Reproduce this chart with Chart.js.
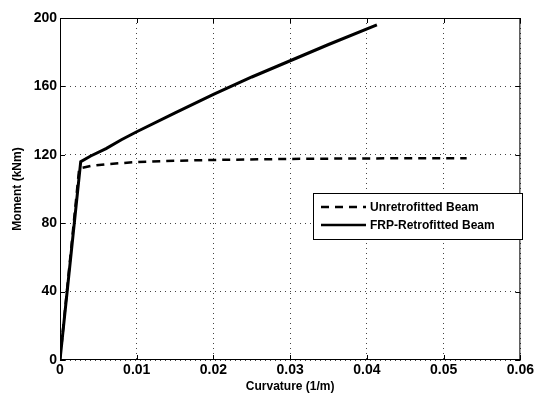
<!DOCTYPE html>
<html><head><meta charset="utf-8">
<script src="https://cdn.jsdelivr.net/npm/chart.js@4/dist/chart.umd.min.js"></script>
<style>html,body{margin:0;padding:0;background:#fff}#wrap{width:536px;height:398px}</style>
</head><body><div id="wrap"><canvas id="c" width="536" height="398"></canvas></div>
<script>
const curvatureUnretro = [0, 0.0025, 0.004, 0.006, 0.01, 0.015, 0.02, 0.03, 0.04, 0.053];
const momentUnretro    = [0, 112, 113.5, 114.5, 115.8, 116.5, 117, 117.6, 117.9, 118];
const curvatureFRP = [0, 0.0027, 0.004, 0.006, 0.008, 0.01, 0.015, 0.02, 0.025, 0.03, 0.035, 0.0413];
const momentFRP    = [0, 116, 119.3, 123.6, 128.8, 133.5, 144.5, 155.3, 165.5, 175, 184.5, 196];
const xTicks = [0, 0.01, 0.02, 0.03, 0.04, 0.05, 0.06];
const yTicks = [0, 40, 80, 120, 160, 200];
const seriesNames = ['Unretrofitted Beam', 'FRP-Retrofitted Beam'];

const toPts = (xs, ys) => xs.map((x, i) => ({x, y: ys[i]}));
const FONT = 'Liberation Sans, Arial, sans-serif';

const framePlugin = {
  id: 'frame',
  afterDraw(chart) {
    const {ctx, chartArea: a, scales: {x, y}} = chart;
    ctx.save();
    ctx.strokeStyle = '#000';
    ctx.lineWidth = 1;
    ctx.setLineDash([]);
    ctx.strokeRect(a.left + 0.5, a.top + 0.5, a.right - a.left - 1, a.bottom - a.top - 1);
    const L = 5;
    ctx.beginPath();
    xTicks.forEach(v => {
      const px = Math.round(x.getPixelForValue(v)) + 0.5;
      ctx.moveTo(px, a.bottom); ctx.lineTo(px, a.bottom - L);
      ctx.moveTo(px, a.top); ctx.lineTo(px, a.top + L);
    });
    yTicks.forEach(v => {
      const py = Math.round(y.getPixelForValue(v)) + 0.5;
      ctx.moveTo(a.left, py); ctx.lineTo(a.left + L, py);
      ctx.moveTo(a.right, py); ctx.lineTo(a.right - L, py);
    });
    ctx.stroke();
    // legend box
    const bx = 313, by = 193, bw = 209, bh = 46;
    ctx.fillStyle = '#fff';
    ctx.fillRect(bx, by, bw, bh);
    ctx.strokeRect(bx + 0.5, by + 0.5, bw, bh);
    ctx.font = 'bold 12px ' + FONT;
    ctx.fillStyle = '#000';
    ctx.textBaseline = 'middle';
    chart.data.datasets.forEach((ds, i) => {
      const ly = by + 14 + i * 18;
      ctx.beginPath();
      ctx.lineWidth = 2.5;
      ctx.setLineDash(ds.borderDash || []);
      ctx.moveTo(bx + 8, ly); ctx.lineTo(bx + 53, ly);
      ctx.stroke();
      ctx.setLineDash([]);
      ctx.fillText(ds.label, bx + 57, ly + 1);
    });
    ctx.restore();
  }
};

new Chart(document.getElementById('c'), {
  type: 'line',
  data: {
    datasets: [
      {label: seriesNames[0], data: toPts(curvatureUnretro, momentUnretro), borderColor: '#000', borderWidth: 2.5, borderDash: [8, 6], pointRadius: 0, tension: 0, fill: false},
      {label: seriesNames[1], data: toPts(curvatureFRP, momentFRP), borderColor: '#000', borderWidth: 3, pointRadius: 0, tension: 0, fill: false}
    ]
  },
  options: {
    responsive: false,
    animation: false,
    events: [],
    layout: {padding: {top: 18, right: 13, left: 10, bottom: 4}},
    plugins: {legend: {display: false}, tooltip: {enabled: false}},
    scales: {
      x: {
        type: 'linear', min: 0, max: 0.06,
        afterBuildTicks: s => { s.ticks = xTicks.map(v => ({value: v})); },
        afterFit: s => { s.height = 34; },
        ticks: {color: '#000', font: {family: FONT, size: 14, weight: 'bold'}, padding: 2, maxRotation: 0, autoSkip: false,
          callback: v => v === 0 ? '0' : String(+v.toFixed(2))},
        grid: {color: '#444', lineWidth: 1, drawTicks: false},
        border: {display: false, dash: [1, 4]},
        title: {display: true, text: 'Curvature (1/m)', color: '#000', font: {family: FONT, size: 12, weight: 'bold'}, padding: {top: 0, bottom: 0}}
      },
      y: {
        type: 'linear', min: 0, max: 200,
        afterBuildTicks: s => { s.ticks = yTicks.map(v => ({value: v})); },
        afterFit: s => { s.width = 50; },
        ticks: {color: '#000', font: {family: FONT, size: 14, weight: 'bold'}, padding: 3, autoSkip: false},
        grid: {color: '#444', lineWidth: 1, drawTicks: false},
        border: {display: false, dash: [1, 4]},
        title: {display: true, text: 'Moment (kNm)', color: '#000', font: {family: FONT, size: 12, weight: 'bold'}, padding: {top: 0, bottom: 4}}
      }
    }
  },
  plugins: [framePlugin]
});
</script>
</body></html>
